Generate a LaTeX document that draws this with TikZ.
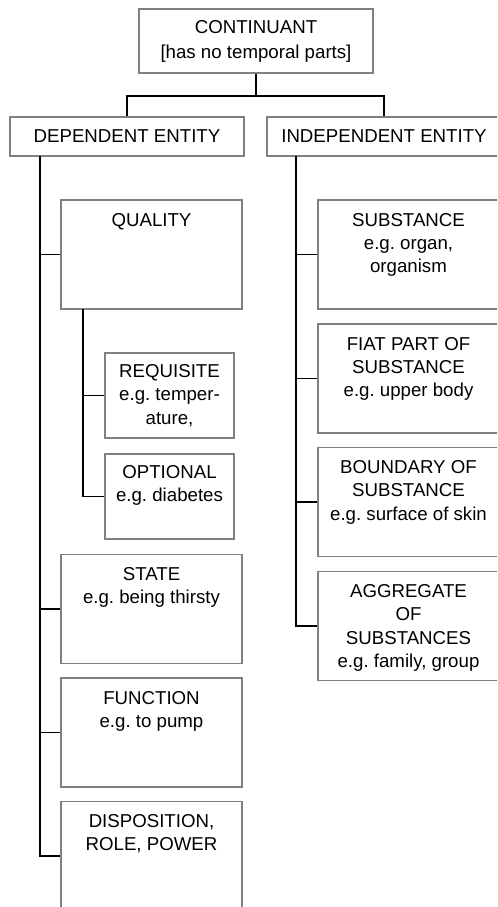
\documentclass[tikz,border=0pt]{standalone}
\usepackage{fontspec}
\setmainfont{Liberation Sans}
\frenchspacing
\usetikzlibrary{positioning}
\begin{document}
\begin{tikzpicture}[x=0.75pt, y=-0.75pt,
		txt/.style={align=center, inner sep=0pt, font=\fontsize{14}{17.5}\selectfont},
		box/.style={draw=gray, line width=1.1pt, inner sep=0pt, txt},
		cat/.style={box, minimum width=135.75pt, minimum height=81.5pt},
		sub/.style={box, minimum width=96.75pt, minimum height=63.75pt},
		link/.style={line width=1.3pt}]
	\useasboundingbox (0,0) rectangle (497,907);
	\clip (0,0) rectangle (497,907);

	% Top levels
	\node[box, minimum width=175.5pt, minimum height=48pt, font=\fontsize{14}{18.75}\selectfont] (cont) at (256,41) {CONTINUANT\\{[has no temporal parts]}};
	\node[box, minimum width=175.5pt, minimum height=29.25pt] (dep) at (127,136.5) {DEPENDENT ENTITY};
	\node[box, minimum width=175.5pt, minimum height=29.25pt] (indep) at (384,136.5) {INDEPENDENT ENTITY};

	% Dependent entities
	\foreach \n/\y/\t in {quality/254.5/{QUALITY}, state/609/{STATE\\e.g. being thirsty},
			function/732.5/{FUNCTION\\e.g. to pump}, disp/856/{DISPOSITION,\\ROLE, POWER}} {
		\node[cat] (\n) at (151.5,\y) {};
		\node[txt, below=10pt of \n.north] (\n-t) {\t};
	}

	% Kinds of quality
	\foreach \n/\y/\t in {requisite/395.5/{REQUISITE\\e.g. temper-\\ature,}, optional/496.5/{OPTIONAL\\e.g. diabetes}} {
		\node[sub] (\n) at (169.5,\y) {};
		\node[txt, below=9pt of \n.north] (\n-t) {\t};
	}

	% Independent entities
	\foreach \n/\y/\t in {substance/254.5/{SUBSTANCE\\e.g. organ,\\organism},
			fiat/378.5/{FIAT PART OF\\SUBSTANCE\\e.g. upper body},
			boundary/502/{BOUNDARY OF\\SUBSTANCE\\e.g. surface of skin},
			aggregate/626/{AGGREGATE\\OF\\SUBSTANCES\\e.g. family, group}} {
		\node[cat] (\n) at (408.5,\y) {};
		\node[txt, below=10pt of \n.north] (\n-t) {\t};
	}

	% Tree lines
	\draw[link] (cont.south) -- ++(0,22) coordinate (fork);
	\draw[link] (dep.north) |- (fork) -| (indep.north);

	\coordinate (dtrunk) at (40,156);
	\draw[link] (dtrunk) |- (disp.west);
	\foreach \n in {quality,state,function}
		\draw[link] (\n.west) -- (\n.west -| dtrunk);

	\coordinate (qtrunk) at (83,309);
	\draw[link] (qtrunk) |- (optional.west);
	\draw[link] (requisite.west) -- (requisite.west -| qtrunk);

	\coordinate (itrunk) at (296,156);
	\draw[link] (itrunk) |- (aggregate.west);
	\foreach \n in {substance,fiat,boundary}
		\draw[link] (\n.west) -- (\n.west -| itrunk);
\end{tikzpicture}
\end{document}
